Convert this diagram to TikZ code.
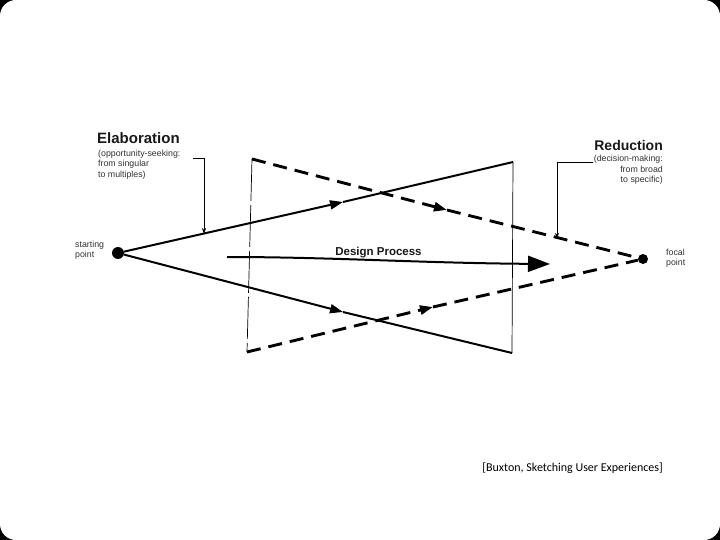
\documentclass[tikz,border=0pt]{standalone}
\usepackage{fontspec}
\setmainfont{Liberation Sans}
\newfontfamily\citefont{Carlito}
\usetikzlibrary{positioning,arrows.meta}

\begin{document}
\begin{tikzpicture}[x=1pt,y=-1pt,
    solidline/.style={line width=2pt},
    dashline/.style={line width=2.9pt,dash pattern=on 14pt off 8pt},
    frameline/.style={line width=0.7pt},
    midtip/.style={-{Triangle[length=13pt,width=9pt]}},
    bigdot/.style={circle,fill=black,inner sep=0pt,minimum size=#1},
    note/.style={font=\fontsize{8.8}{10.6}\selectfont,inner sep=0pt,text=black!80},
    head/.style={font=\bfseries\fontsize{#1}{#1}\selectfont,inner sep=0pt,text=black!90}]
        \fill[black] (0,0) rectangle (720,540);
        \fill[white,rounded corners=16pt] (0,0) rectangle (720,540);
        \node[bigdot=12pt] (start) at (118,253) {};
        \node[bigdot=10pt] (focal) at (643,259) {};
        \coordinate (opentop) at (513,162);
        \coordinate (openbot) at (512,353);
        \coordinate (redtop) at (252,159);
        \coordinate (redbot) at (247,352);
        \coordinate (upmid) at (343,202);
        \coordinate (lowmid) at (343,312);
        \coordinate (dupmid) at (447,210);
        \coordinate (dlowmid) at (433,307);
        \draw[frameline,dash pattern=on 42pt off 4pt] (redtop) -- (redbot);
        \draw[frameline] (opentop) -- (openbot);
        \draw[solidline,midtip] (start) -- (upmid);
        \draw[solidline] (upmid) -- (opentop);
        \draw[solidline,midtip] (start) -- (lowmid);
        \draw[solidline] (lowmid) -- (openbot);
        \draw[dashline,midtip] (redtop) -- (dupmid);
        \draw[dashline] (dupmid) -- (focal);
        \draw[dashline,midtip] (redbot) -- (dlowmid);
        \draw[dashline] (dlowmid) -- (focal);
        \coordinate (dpstart) at (227,257);
        \coordinate (dpend) at (550,264);
        \draw[solidline,-{Triangle[length=22pt,width=16pt]}] (dpstart) .. controls (330,257) and (420,263) .. (dpend);
        \node[head=11.5,anchor=base] (dp) at (378.5,255) {Design Process};
        \node[head=15,anchor=base west] (elab) at (97,144) {Elaboration};
        \node[note,anchor=north west,align=left] (elabnote) at (98,149.5) {(opportunity-seeking:\\from singular\\to multiples)};
        \node[head=14,anchor=base east] (red) at (663,151) {Reduction};
        \node[note,anchor=north east,align=right] (rednote) at (663,155) {(decision-making:\\from broad\\to specific)};
        \node[note,anchor=north west,align=left] (startlabel) at (75,240.5) {starting\\point};
        \node[note,anchor=north west,align=left] (focallabel) at (666,248.5) {focal\\point};
        \coordinate (elabhook) at (193,158);
        \coordinate (elabtip) at (204,234);
        \coordinate (redhook) at (593,162);
        \coordinate (redtip) at (557,238);
        \draw[line width=0.6pt,-{Stealth[length=6pt,width=4pt]}] (elabhook) -| (elabtip);
        \draw[line width=0.6pt,-{Stealth[length=5pt,width=4pt]}] (redhook) -| (redtip);
        \node[font=\citefont\fontsize{12}{14}\selectfont,anchor=base east,inner sep=0pt] (cite) at (663,471) {[Buxton, Sketching User Experiences]};
    \end{tikzpicture}
\end{document}
